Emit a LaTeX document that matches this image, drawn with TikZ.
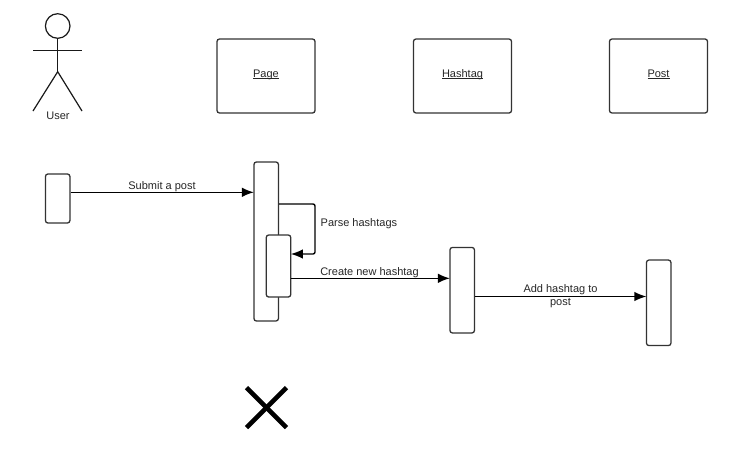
\documentclass[tikz,border=0pt]{standalone}
\usepackage{fontspec}
\setmainfont{Liberation Sans}
\usetikzlibrary{arrows.meta}
\tikzset{
  diagram/.style={x=1pt,y=-1pt},
  objbox/.style={draw=black!80,fill=white,line width=1.3pt,rounded corners=2.5pt,minimum width=98pt,minimum height=74pt,inner sep=0pt,text=black!85,font=\fontsize{11}{13}\selectfont},
  bar/.style={draw=black!80,fill=white,line width=1.3pt,rounded corners=2.5pt,minimum width=24.5pt,inner sep=0pt},
  msg/.style={draw=black,line width=1.4pt,-{Latex[length=12pt,width=9.5pt]},shorten >=-0.6pt},
  lbl/.style={inner sep=0pt,font=\fontsize{11}{13}\selectfont,text=black!85},
  actor/.style={draw=black!90,line width=1.2pt},
  cross/.style={draw=black,line width=4.6pt}
}
\begin{document}
\begin{tikzpicture}[diagram]
\useasboundingbox (0,0) rectangle (735,458);
% actor
\node[actor,circle,minimum size=24.6pt,inner sep=0pt] (head) at (57.7,26) {};
\coordinate (hip) at (57.7,71.7);
\coordinate (armL) at (33,50.5);
\coordinate (armR) at (82,50.5);
\coordinate (legL) at (33,111);
\coordinate (legR) at (82,111);
\draw[actor] (head.south) -- (hip);
\draw[actor] (armL) -- (armR);
\draw[actor] (legL) -- (hip) -- (legR);
\node[lbl] (user) at (58,116) {User};
% objects
\node[objbox] (page) at (266,76) {\raisebox{-4pt}{\underline{\smash{Page}}}};
\node[objbox] (hash) at (462.5,76) {\raisebox{-4pt}{\underline{\smash{Hashtag}}}};
\node[objbox] (post) at (658.5,76) {\raisebox{-4pt}{\underline{\smash{Post}}}};
% activations
\node[bar,minimum height=49pt] (ua) at (57.7,198.5) {};
\node[bar,minimum height=159pt] (pa) at (266.2,241.5) {};
\node[bar,minimum height=62pt] (pi) at (278.5,266) {};
\node[bar,minimum height=85.5pt] (ha) at (462.2,290.2) {};
\node[bar,minimum height=85.5pt] (oa) at (658.7,302.8) {};
% connectors
\coordinate (s1) at (ua.east |- 0,192.3);
\coordinate (s2) at (pa.west |- 0,192.3);
\draw[msg] (s1) -- (s2);
\coordinate (p1) at (pa.east |- 0,204);
\coordinate (p2) at (pi.east |- 0,254);
\draw[msg,rounded corners=2pt] (p1) -- (315,204) -- (315,254) -- (p2);
\coordinate (c1) at (pi.east |- 0,278.3);
\coordinate (c2) at (ha.west |- 0,278.3);
\draw[msg] (c1) -- (c2);
\coordinate (a1) at (ha.east |- 0,296.5);
\coordinate (a2) at (oa.west |- 0,296.5);
\draw[msg] (a1) -- (a2);
% labels
\node[lbl] (t1) at (162,186.5) {Submit a post};
\node[lbl,anchor=west] (t2) at (320.5,223.5) {Parse hashtags};
\node[lbl] (t3) at (369.5,272.5) {Create new hashtag};
\node[lbl,align=center] (t4) at (560.5,296.5) {Add hashtag to\\post};
% destroy mark
\coordinate (x1) at (246.5,387.5);
\coordinate (x2) at (286.5,427.5);
\coordinate (x3) at (246.5,427.5);
\coordinate (x4) at (286.5,387.5);
\draw[cross] (x1) -- (x2);
\draw[cross] (x3) -- (x4);
\end{tikzpicture}
\end{document}
